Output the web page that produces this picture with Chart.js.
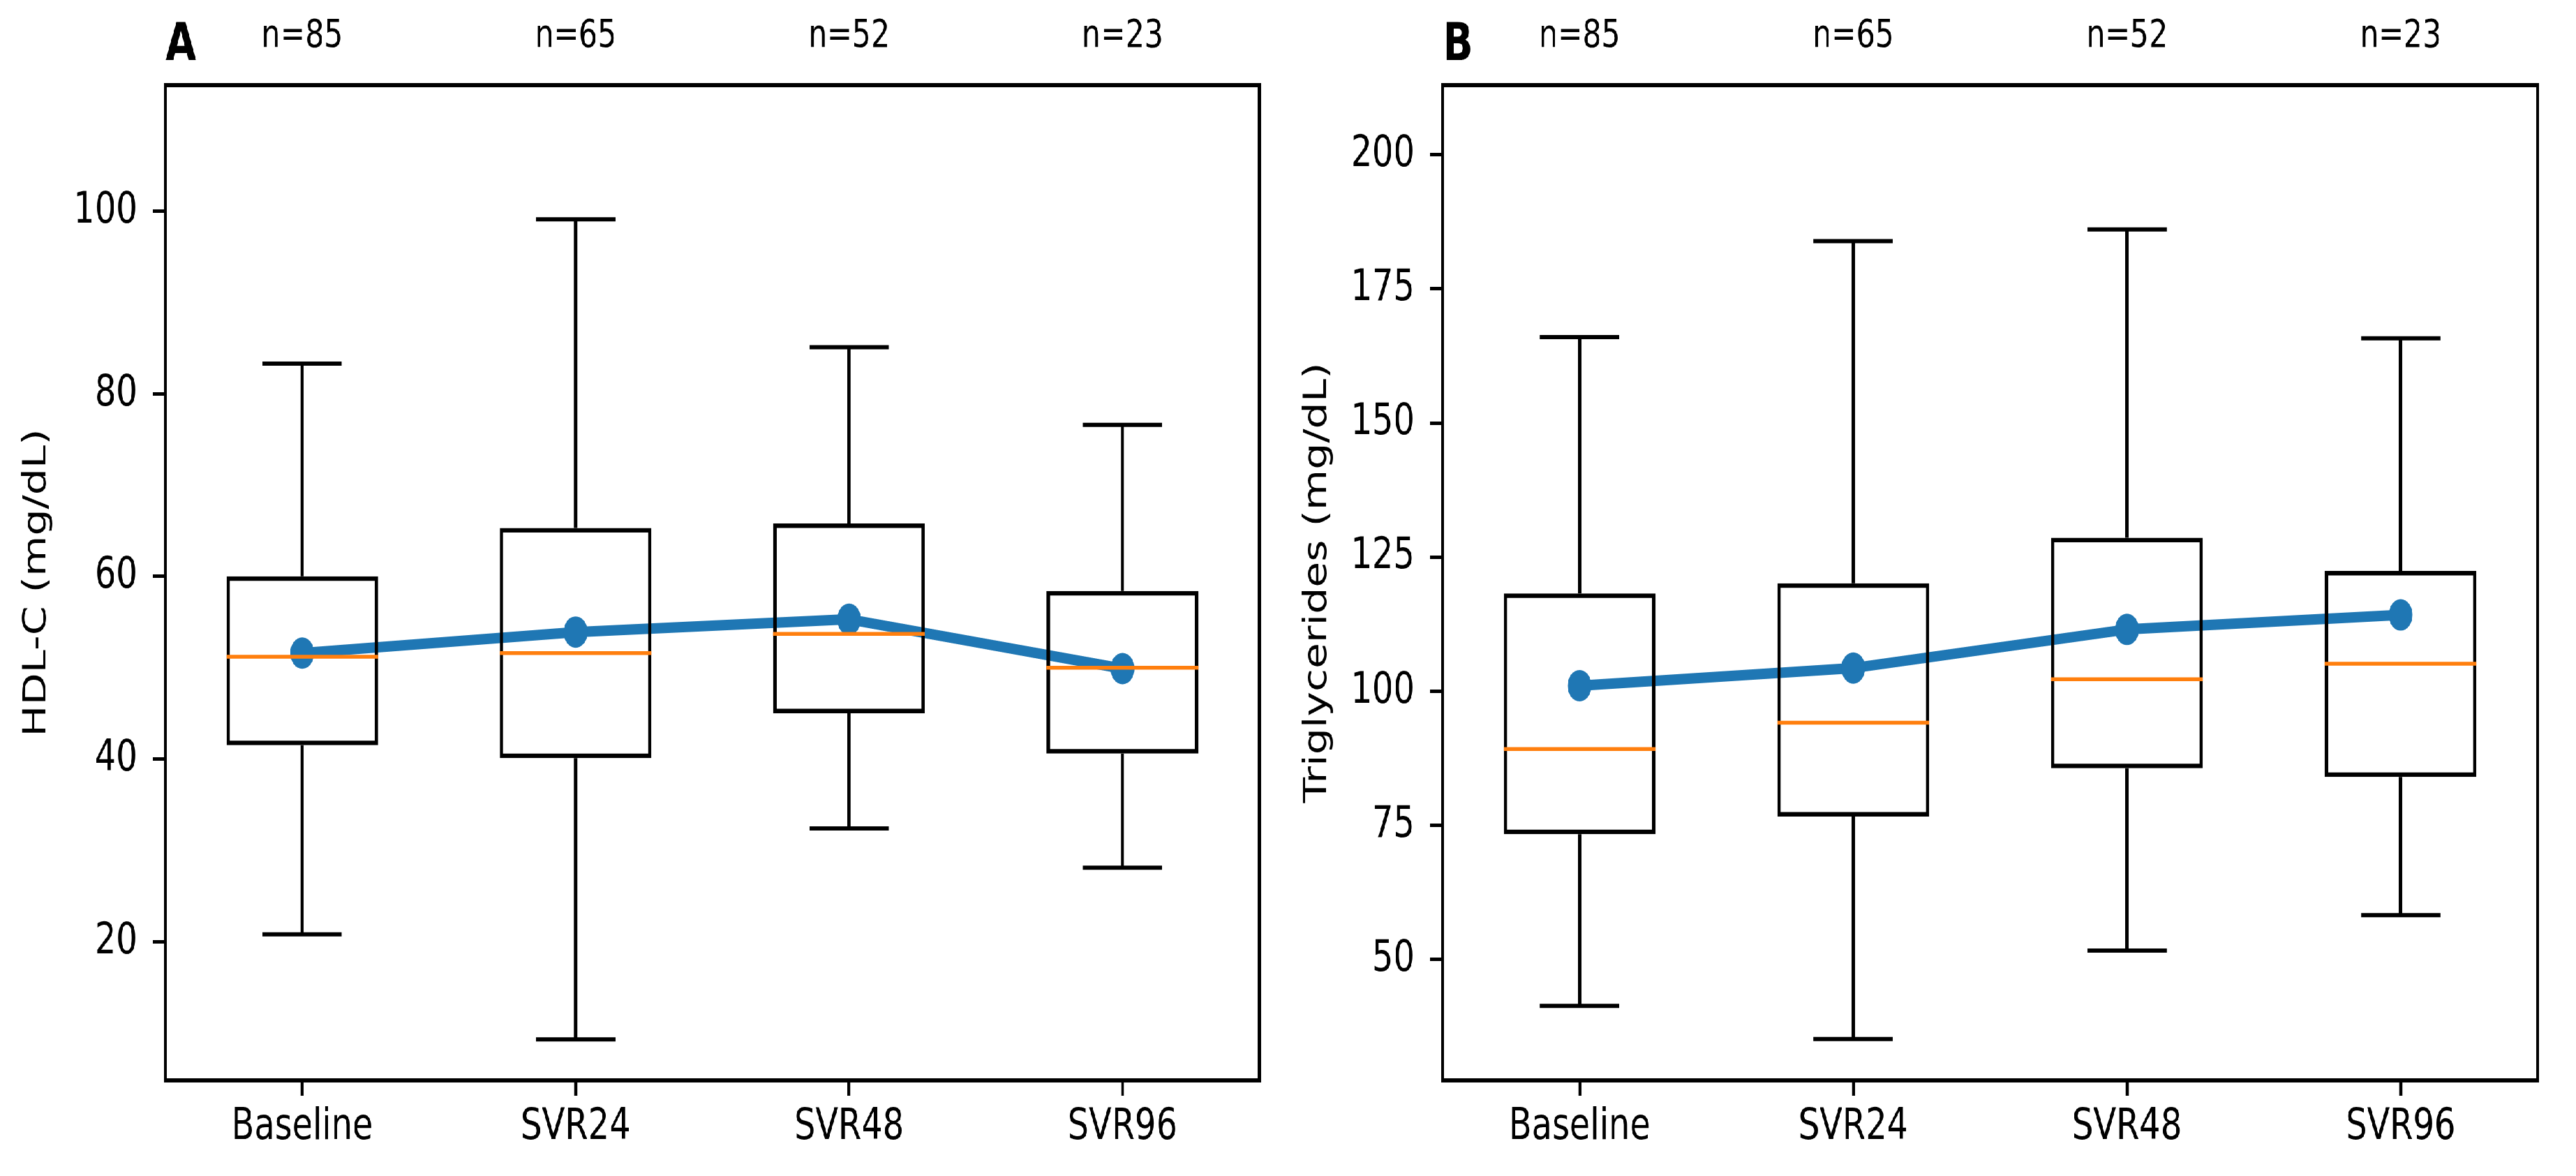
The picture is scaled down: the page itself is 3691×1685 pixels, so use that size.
<!DOCTYPE html>
<html>
<head>
<meta charset="utf-8">
<script src="https://cdn.jsdelivr.net/npm/chart.js@4.4.1/dist/chart.umd.min.js"></script>
<style>
html, body { margin: 0; padding: 0; background: #fff; overflow: hidden; }
/* the reference figure is squeezed sideways, so draw wide and squeeze */
#wrap { display: flex; width: 4857px; height: 1685px; transform: scaleX(0.76); transform-origin: 0 0; }
canvas { display: block; }
</style>
</head>
<body>
<div id="wrap">
  <canvas id="cA" width="2420" height="1685"></canvas>
  <canvas id="cB" width="2437" height="1685"></canvas>
</div>
<script>
var categories = ['Baseline', 'SVR24', 'SVR48', 'SVR96'];
var nLabels = ['n=85', 'n=65', 'n=52', 'n=23'];
var positions = [1, 2, 3, 4];

// A: HDL-C (mg/dL)
var hdlLow  = [20.8, 9.3, 32.4, 28.1];
var hdlQ1   = [41.5, 40.1, 45.0, 40.6];
var hdlMed  = [51.2, 51.6, 53.7, 50.0];
var hdlQ3   = [60.0, 65.3, 65.8, 58.4];
var hdlHigh = [83.3, 99.1, 85.1, 76.6];
var hdlMean = [51.6, 53.9, 55.3, 49.9];
var hdlTicks = [20, 40, 60, 80, 100];

// B: Triglycerides (mg/dL)
var tgLow  = [41.3, 35.1, 51.6, 58.2];
var tgQ1   = [73.3, 76.6, 85.6, 84.0];
var tgMed  = [89.2, 94.1, 102.2, 105.1];
var tgQ3   = [118.2, 120.1, 128.6, 122.4];
var tgHigh = [166.0, 183.9, 186.1, 165.8];
var tgMean = [101.0, 104.3, 111.5, 114.2];
var tgTicks = [50, 75, 100, 125, 150, 175, 200];

var BOX_W = 0.555, CAP_W = 0.29;

Chart.defaults.font.family = '"DejaVu Sans", sans-serif';
Chart.defaults.color = '#000';

var framePlugin = {
  id: 'frame',
  afterDatasetsDraw: function(chart, args, opts) {
    var a = chart.chartArea, ctx = chart.ctx;
    ctx.save();
    ctx.strokeStyle = '#000';
    ctx.lineWidth = 6;
    ctx.strokeRect(a.left, a.top, a.right - a.left, a.bottom - a.top);
    ctx.font = 'bold 75px "DejaVu Sans"';
    ctx.fillStyle = '#000';
    ctx.textAlign = 'left';
    ctx.textBaseline = 'alphabetic';
    ctx.fillText(opts.letter, a.left, a.top - 36);
    ctx.restore();
  }
};

function fixedTicks(list) {
  return function(scale) {
    scale.ticks = list.map(function(v) { return {value: v}; });
  };
}

function boxChart(id, letter, yTitle, lo, q1, med, q3, hi, mean, yMin, yMax, yTicks, yWidth, titlePad, rightPad) {
  var boxes = [], whisk = [], meds = [], means = [];
  for (var i = 0; i < positions.length; i++) {
    var x = positions[i];
    boxes.push({x: x, y: [q1[i], q3[i]]});
    whisk.push({x: x, y: q1[i]}, {x: x, y: lo[i]}, {x: x, y: null});
    whisk.push({x: x - CAP_W / 2, y: lo[i]}, {x: x + CAP_W / 2, y: lo[i]}, {x: x, y: null});
    whisk.push({x: x, y: q3[i]}, {x: x, y: hi[i]}, {x: x, y: null});
    whisk.push({x: x - CAP_W / 2, y: hi[i]}, {x: x + CAP_W / 2, y: hi[i]}, {x: x, y: null});
    meds.push({x: x - BOX_W / 2, y: med[i]}, {x: x + BOX_W / 2, y: med[i]}, {x: x, y: null});
    means.push({x: x, y: mean[i]});
  }

  return new Chart(document.getElementById(id), {
    type: 'bar',
    data: {
      datasets: [{
        type: 'bar',
        data: boxes,
        backgroundColor: 'rgba(0,0,0,0)',
        borderColor: '#000',
        borderWidth: 6.5,
        borderSkipped: false,
        barPercentage: BOX_W,
        categoryPercentage: 1,
        order: 2
      }, {
        type: 'line',
        data: whisk,
        borderColor: '#000',
        borderWidth: 6,
        borderCapStyle: 'butt',
        pointRadius: 0,
        spanGaps: false,
        order: 1
      }, {
        type: 'line',
        data: meds,
        borderColor: '#ff7f0e',
        borderWidth: 5.5,
        borderCapStyle: 'butt',
        pointRadius: 0,
        spanGaps: false,
        order: 0
      }, {
        type: 'line',
        data: means,
        borderColor: '#1f77b4',
        borderWidth: 15,
        borderJoinStyle: 'round',
        pointRadius: 22.5,
        pointHoverRadius: 22.5,
        pointBackgroundColor: '#1f77b4',
        pointBorderWidth: 0,
        order: 3
      }]
    },
    options: {
      responsive: false,
      animation: false,
      devicePixelRatio: 1,
      events: [],
      layout: { padding: { left: 0, right: rightPad, top: 0, bottom: 0 } },
      plugins: {
        legend: { display: false },
        tooltip: { enabled: false },
        frame: { letter: letter }
      },
      scales: {
        x: {
          type: 'linear', position: 'bottom', min: 0.5, max: 4.5, offset: false,
          afterBuildTicks: fixedTicks(positions),
          afterFit: function(s) { s.height = 137; },
          ticks: {
            callback: function(v) { return categories[positions.indexOf(v)]; },
            font: { size: 63 }, padding: 8, maxRotation: 0, autoSkip: false
          },
          grid: { display: true, drawOnChartArea: false, offset: false, tickLength: 22, tickWidth: 5.5, tickColor: '#000' },
          border: { display: false }
        },
        xTop: {
          type: 'linear', position: 'top', min: 0.5, max: 4.5, offset: false,
          afterBuildTicks: fixedTicks(positions),
          afterFit: function(s) { s.height = 122; },
          ticks: {
            callback: function(v) { return nLabels[positions.indexOf(v)]; },
            font: { size: 56 }, padding: 28, maxRotation: 0, autoSkip: false
          },
          grid: { display: false },
          border: { display: false }
        },
        y: {
          type: 'linear', min: yMin, max: yMax,
          afterBuildTicks: fixedTicks(yTicks),
          afterFit: function(s) { s.width = yWidth; },
          ticks: { font: { size: 63 }, padding: 29 },
          grid: { drawOnChartArea: false, tickLength: 24, tickWidth: 5, tickColor: '#000' },
          border: { display: false },
          title: { display: true, text: yTitle, font: { size: 60 }, padding: { top: titlePad, bottom: 0 } }
        }
      }
    },
    plugins: [framePlugin]
  });
}

boxChart('cA', 'A', 'HDL-C (mg/dL)', hdlLow, hdlQ1, hdlMed, hdlQ3, hdlHigh, hdlMean,
  4.8, 113.8, hdlTicks, 312, 34, 46);
boxChart('cB', 'B', 'Triglycerides (mg/dL)', tgLow, tgQ1, tgMed, tgQ3, tgHigh, tgMean,
  27.4, 213.0, tgTicks, 300, 28, 73);
</script>
</body>
</html>
